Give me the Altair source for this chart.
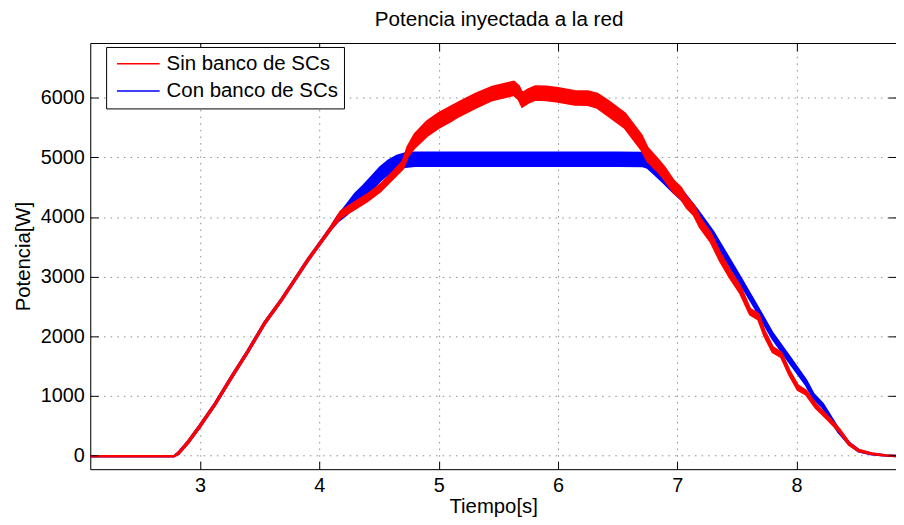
import altair as alt
import pandas as pd

# ---- data (centre of the trace and half-thickness of the ripple band) ----
t_red = [2.00, 2.78, 2.82, 2.90, 3.00, 3.125, 3.26, 3.40, 3.54, 3.68, 3.79, 3.90, 4.00, 4.10,
         4.18, 4.29, 4.40, 4.51, 4.62, 4.70, 4.74, 4.80, 4.90, 5.00, 5.10, 5.17, 5.31, 5.45,
         5.59, 5.63, 5.67, 5.70, 5.75, 5.81, 5.90, 6.00, 6.14, 6.25, 6.33, 6.42, 6.56, 6.70,
         6.75, 6.83, 6.89, 6.97, 7.03, 7.08, 7.14, 7.19, 7.28, 7.36, 7.44, 7.53, 7.61, 7.68,
         7.73, 7.80, 7.87, 7.94, 8.01, 8.08, 8.16, 8.27, 8.36, 8.44, 8.52, 8.63, 8.75, 8.90]
red_mid = [-15, -15, 40, 223, 498, 859, 1302, 1745, 2216, 2604, 2936, 3269, 3546, 3823,
           4044, 4183, 4321, 4487, 4709, 4875, 5097, 5280, 5480, 5620, 5730, 5810, 5950, 6075,
           6140, 6160, 6090, 5965, 6030, 6080, 6075, 6050, 6000, 5995, 5950, 5825, 5620, 5250,
           5050, 4880, 4740, 4510, 4400, 4240, 4110, 3906, 3656, 3324, 3048, 2770, 2410, 2327,
           2050, 1773, 1690, 1386, 1137, 1054, 831, 610, 416, 194, 83, 28, 0, -15]
red_half = [0, 0, 10, 15, 15, 15, 15, 15, 15, 15, 15, 15, 15, 20,
            50, 55, 55, 55, 55, 60, 80, 110, 120, 120, 120, 115, 115, 110,
            110, 110, 110, 110, 110, 110, 110, 110, 110, 110, 115, 120, 120, 120,
            110, 100, 100, 95, 90, 85, 80, 75, 70, 65, 60, 55, 45, 45,
            40, 40, 35, 35, 35, 30, 30, 25, 20, 15, 10, 5, 0, 0]

t_blue = [2.00, 2.78, 2.82, 2.90, 3.00, 3.125, 3.26, 3.40, 3.54, 3.68, 3.79, 3.90, 4.00, 4.10,
          4.15, 4.23, 4.30, 4.37, 4.44, 4.51, 4.58, 4.65, 4.72, 4.80, 5.00, 5.50, 6.00, 6.50,
          6.71, 6.75, 6.81, 6.89, 6.97, 7.06, 7.17, 7.30, 7.51, 7.66, 7.80, 7.94, 8.08, 8.14,
          8.22, 8.35, 8.44, 8.52, 8.63, 8.75, 8.90]
blue_mid = [-15, -15, 40, 223, 498, 859, 1302, 1745, 2216, 2604, 2936, 3269, 3546, 3823,
            3960, 4127, 4290, 4418, 4570, 4722, 4840, 4915, 4955, 4970, 4970, 4970, 4970, 4970,
            4965, 4930, 4800, 4650, 4490, 4320, 4060, 3700, 3000, 2490, 2000, 1610, 1220, 1000,
            835, 420, 200, 80, 25, 0, -15]
blue_half = [0, 0, 10, 15, 15, 15, 15, 15, 15, 15, 15, 15, 15, 20,
             40, 80, 100, 110, 110, 110, 110, 110, 110, 110, 110, 110, 110, 110,
             110, 100, 80, 80, 80, 75, 55, 55, 50, 45, 45, 45, 40, 35,
             30, 25, 15, 10, 5, 0, 0]

series = ["Sin banco de SCs", "Con banco de SCs"]
colors = ["#ff0000", "#0000ff"]
x_ticks = [3, 4, 5, 6, 7, 8]
y_ticks = [0, 1000, 2000, 3000, 4000, 5000, 6000]
x_domain = [2.08, 8.833]
y_domain = [-230, 6920]


def band(t, mid, half, name):
    return pd.DataFrame({
        "t": t,
        "lo": [m - h for m, h in zip(mid, half)],
        "hi": [m + h for m, h in zip(mid, half)],
        "serie": name,
        "relleno": name,
    })


df_red = band(t_red, red_mid, red_half, series[0])
df_blue = band(t_blue, blue_mid, blue_half, series[1])
df_ticks = pd.DataFrame({"x": x_ticks, "y": y_ticks[:len(x_ticks)]})

W, H = 813, 430
FONT = "Liberation Sans"
GRID_DASH = [1.5, 5.2]
GRID_COLOR = "#8c8c8c"

xs = alt.Scale(domain=x_domain, nice=False, zero=False)
ys = alt.Scale(domain=y_domain, nice=False, zero=False)
# fill scale uses the reversed order so that it is not merged with the stroke legend
fill_scale = alt.Scale(domain=series[::-1], range=colors[::-1])
stroke_scale = alt.Scale(domain=series, range=colors)

main_x_axis = alt.Axis(values=x_ticks, title="Tiempo[s]", grid=True, gridDash=GRID_DASH,
                       gridColor=GRID_COLOR, ticks=False, tickSize=0, labelPadding=7,
                       domainColor="black", labelFontSize=20, titleFontSize=20.5,
                       titleFontWeight="normal", titlePadding=1, labelFont=FONT,
                       titleFont=FONT, labelColor="black", titleColor="black", orient="bottom",
                       format="d")
main_y_axis = alt.Axis(values=y_ticks, title="Potencia[W]", grid=True, gridDash=GRID_DASH,
                       gridColor=GRID_COLOR, ticks=False, tickSize=0, labelPadding=6,
                       domainColor="black", labelFontSize=20, titleFontSize=20.5,
                       titleFontWeight="normal", titlePadding=7, labelFont=FONT,
                       titleFont=FONT, labelColor="black", titleColor="black", orient="left",
                       format="d")


def tick_axis(values, orient, offset, domain=False):
    return alt.Axis(values=values, orient=orient, offset=offset, labels=False, domain=domain,
                    domainColor="black", grid=False, ticks=True, tickSize=8, tickColor="black",
                    title=None, zindex=1)


# a 43 px line drawn by a custom path, with a layout size of 20 px so rows stay compact
legend = alt.Legend(title=None, orient="none", legendX=16, legendY=4,
                    symbolType="M-2.15,0H2.15", symbolSize=400, symbolStrokeWidth=1.5,
                    labelFontSize=20.6, labelFont=FONT, labelColor="black", labelLimit=0,
                    labelExpr="datum.label + ' '",
                    padding=6, rowPadding=5.5, symbolOffset=15.5, labelOffset=17.5,
                    strokeColor="black", fillColor="white", cornerRadius=0, zindex=2)

blue = alt.Chart(df_blue).mark_area(strokeWidth=2.5, clip=True).encode(
    x=alt.X("t:Q", scale=xs, axis=main_x_axis),
    y=alt.Y("lo:Q", scale=ys, axis=main_y_axis),
    y2="hi:Q",
    fill=alt.Fill("relleno:N", scale=fill_scale, legend=None),
    stroke=alt.Stroke("serie:N", scale=stroke_scale, legend=legend),
)

red = alt.Chart(df_red).mark_area(strokeWidth=2.5, clip=True).encode(
    x=alt.X("t:Q", scale=xs, axis=tick_axis(x_ticks, "top", -H)),
    y=alt.Y("lo:Q", scale=ys, axis=tick_axis(y_ticks, "right", -W)),
    y2="hi:Q",
    fill=alt.Fill("relleno:N", scale=fill_scale, legend=None),
    stroke=alt.Stroke("serie:N", scale=stroke_scale, legend=legend),
)

ticks = alt.Chart(df_ticks).mark_point(opacity=0).encode(
    x=alt.X("x:Q", scale=xs, axis=tick_axis(x_ticks, "bottom", -H, domain=True)),
    y=alt.Y("y:Q", scale=ys, axis=tick_axis(y_ticks, "left", -W)),
)

chart = alt.layer(blue, red, ticks).resolve_axis(
    x="independent", y="independent"
).properties(
    width=W, height=H,
    padding={"left": 83, "top": 33, "right": 0, "bottom": 54},
    autosize=alt.AutoSizeParams(type="none"),
    title=alt.TitleParams("Potencia inyectada a la red", fontSize=20.8, font=FONT,
                          fontWeight="normal", color="black", offset=12, anchor="middle",
                          dx=6),
).configure_view(stroke=None).configure(background="white")

chart.save("out.html", embed_options={"renderer": "svg", "actions": False})
